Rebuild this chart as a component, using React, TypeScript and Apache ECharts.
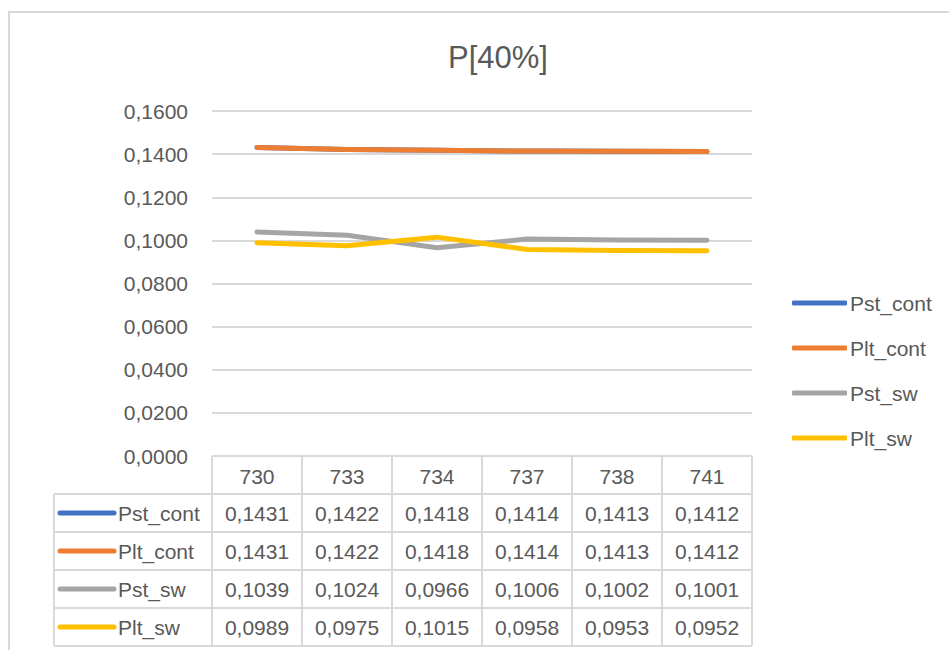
import React, { useEffect, useRef } from "react";
import * as echarts from "echarts";

const title = "P[40%]";
const categories = ["730", "733", "734", "737", "738", "741"];
const seriesNames = ["Pst_cont", "Plt_cont", "Pst_sw", "Plt_sw"];
const pstCont = [0.1431, 0.1422, 0.1418, 0.1414, 0.1413, 0.1412];
const pltCont = [0.1431, 0.1422, 0.1418, 0.1414, 0.1413, 0.1412];
const pstSw = [0.1039, 0.1024, 0.0966, 0.1006, 0.1002, 0.1001];
const pltSw = [0.0989, 0.0975, 0.1015, 0.0958, 0.0953, 0.0952];
const yTicksMin = 0;
const yTicksMax = 0.16;
const yTickStep = 0.02;

const seriesValues = [pstCont, pltCont, pstSw, pltSw];
const colors = ["#4472C4", "#ED7D31", "#A5A5A5", "#FFC000"];

const fmt = (v: number) => v.toFixed(4).replace(".", ",");

const FONT = "'Liberation Sans', Arial, sans-serif";
const TXT = "#595959";
const LINE = "#d9d9d9";

// layout
const W = 949;
const H = 650;
const GL = 212;
const GR = 752;
const GT = 111;
const GB = 456;
const TABLE_L = 54;
const HEADER_B = 494;
const ROW_H = 38;

export default function App() {
  const ref = useRef<HTMLDivElement>(null);

  useEffect(() => {
    if (!ref.current) return;
    const chart = echarts.init(ref.current, undefined, { renderer: "svg" });
    const colW = (GR - GL) / categories.length;
    const tableBottom = HEADER_B + ROW_H * seriesNames.length;

    const graphics: any[] = [];
    // outer chart border
    graphics.push({
      type: "rect",
      shape: { x: 9, y: 12, width: W + 20, height: H + 20 },
      style: { fill: "none", stroke: LINE, lineWidth: 2 },
      silent: true,
    });
    // header top
    graphics.push({
      type: "line",
      shape: { x1: GL, y1: GB, x2: GR, y2: GB },
      style: { stroke: LINE, lineWidth: 2 },
    });
    // horizontal row lines
    for (let r = 0; r <= seriesNames.length; r++) {
      const y = HEADER_B + r * ROW_H;
      graphics.push({
        type: "line",
        shape: { x1: TABLE_L, y1: y, x2: GR, y2: y },
        style: { stroke: LINE, lineWidth: 2 },
      });
    }
    // vertical lines
    for (let c = 0; c <= categories.length; c++) {
      const x = GL + c * colW;
      graphics.push({
        type: "line",
        shape: { x1: x, y1: GB, x2: x, y2: tableBottom },
        style: { stroke: LINE, lineWidth: 2 },
      });
    }
    graphics.push({
      type: "line",
      shape: { x1: TABLE_L, y1: HEADER_B, x2: TABLE_L, y2: tableBottom },
      style: { stroke: LINE, lineWidth: 2 },
    });
    // header texts
    categories.forEach((cat, i) => {
      graphics.push({
        type: "text",
        x: GL + (i + 0.5) * colW,
        y: (GB + HEADER_B) / 2 + 1,
        style: {
          text: cat,
          fill: TXT,
          font: `21px ${FONT}`,
          align: "center",
          verticalAlign: "middle",
        },
      });
    });
    // rows
    seriesNames.forEach((name, r) => {
      const cy = HEADER_B + (r + 0.5) * ROW_H;
      graphics.push({
        type: "line",
        shape: { x1: 60, y1: cy, x2: 114, y2: cy },
        style: { stroke: colors[r], lineWidth: 5, lineCap: "round" },
      });
      graphics.push({
        type: "text",
        x: 118,
        y: cy,
        style: {
          text: name,
          fill: TXT,
          font: `21px ${FONT}`,
          align: "left",
          verticalAlign: "middle",
        },
      });
      seriesValues[r].forEach((v, i) => {
        graphics.push({
          type: "text",
          x: GL + (i + 0.5) * colW,
          y: cy,
          style: {
            text: fmt(v),
            fill: TXT,
            font: `21px ${FONT}`,
            align: "center",
            verticalAlign: "middle",
          },
        });
      });
    });

    chart.setOption({
      animation: false,
      backgroundColor: "#ffffff",
      title: {
        text: title,
        left: 493,
        top: 52,
        textAlign: "center",
        textVerticalAlign: "middle",
        textStyle: {
          fontFamily: FONT,
          fontSize: 31,
          fontWeight: "normal",
          color: TXT,
        },
      },
      grid: {
        left: GL,
        right: W - GR,
        top: GT,
        bottom: H - GB,
        containLabel: false,
      },
      legend: {
        orient: "vertical",
        left: 792,
        top: 291,
        padding: 0,
        itemWidth: 55,
        itemHeight: 5,
        itemGap: 21,
        icon: "roundRect",
        selectedMode: false,
        data: seriesNames,
        textStyle: {
          fontFamily: FONT,
          fontSize: 21,
          lineHeight: 24,
          color: TXT,
          padding: [0, 0, 0, -2],
        },
      },
      xAxis: {
        type: "category",
        data: categories,
        boundaryGap: true,
        axisLine: { show: false },
        axisTick: { show: false },
        axisLabel: { show: false },
        splitLine: { show: false },
      },
      yAxis: {
        type: "value",
        min: yTicksMin,
        max: yTicksMax,
        interval: yTickStep,
        axisLine: { show: false },
        axisTick: { show: false },
        axisLabel: {
          formatter: (v: number) => fmt(v),
          fontFamily: FONT,
          fontSize: 21,
          color: TXT,
          margin: 24,
        },
        splitLine: { lineStyle: { color: LINE, width: 2 } },
      },
      series: seriesNames.map((name, i) => ({
        name,
        type: "line",
        data: seriesValues[i],
        symbol: "none",
        color: colors[i],
        lineStyle: { width: 5, color: colors[i], cap: "round", join: "round" },
        z: 2 + i,
      })),
      graphic: graphics,
    });

    return () => chart.dispose();
  }, []);

  return (
    <div
      ref={ref}
      style={{ position: "absolute", left: 0, top: 0, width: W, height: H }}
    />
  );
}
